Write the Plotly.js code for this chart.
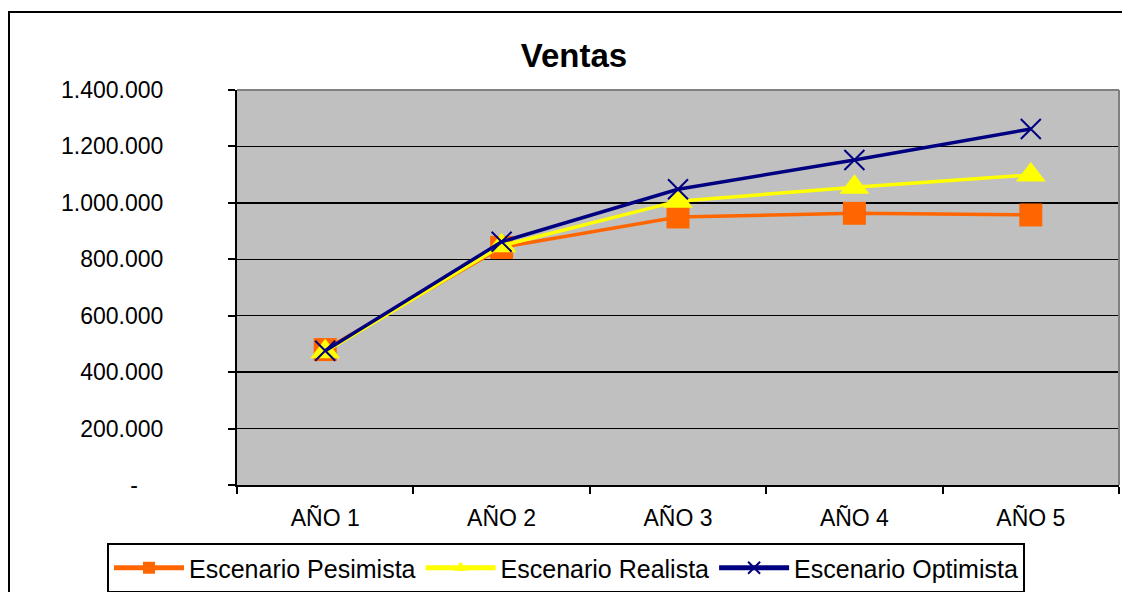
<!DOCTYPE html>
<html>
<head>
<meta charset="utf-8">
<script src="https://cdn.plot.ly/plotly-3.0.1.min.js"></script>
<style>
  html, body { margin: 0; padding: 0; background: #ffffff; }
  #chart { width: 1122px; height: 592px; }
</style>
</head>
<body>
<div id="chart"></div>
<script>
// Yearly sales under three scenarios
const years = ['AÑO 1', 'AÑO 2', 'AÑO 3', 'AÑO 4', 'AÑO 5'];
const pesimista = [480000, 842000, 950000, 963000, 957000];
const realista  = [472000, 848000, 1006000, 1055000, 1099000];
const optimista = [476000, 862000, 1048000, 1152000, 1262000];

const yTickValues = [0, 200000, 400000, 600000, 800000, 1000000, 1200000, 1400000];
const yTickLabels = ['-', '200.000', '400.000', '600.000', '800.000', '1.000.000', '1.200.000', '1.400.000'];

// accounting-style dash for zero sits left of the right-aligned numbers
const NBSP = '\u00a0';
const yTickText = yTickLabels.map(t => t === '-' ? '-' + NBSP.repeat(4) : t);

const FONT = '"Liberation Sans", Arial, sans-serif';

// plot area in pixels, used to place frame and legend in paper units
const W = 1122, H = 592;
const L = 237, R = 1119, T = 90, B = 485;
const pw = R - L, ph = B - T;
const px = x => (x - L) / pw;
const py = y => (B - y) / ph;

const traces = [
  {
    name: 'Escenario Pesimista', x: years, y: pesimista,
    type: 'scatter', mode: 'lines+markers',
    line: { color: '#FF6600', width: 3.5 },
    marker: { symbol: 'square', size: 23, color: '#FF6600' }
  },
  {
    name: 'Escenario Realista', x: years, y: realista,
    type: 'scatter', mode: 'lines+markers',
    line: { color: '#FFFF00', width: 3.5 },
    marker: { symbol: 'triangle-up', size: 26, color: '#FFFF00' }
  },
  {
    name: 'Escenario Optimista', x: years, y: optimista,
    type: 'scatter', mode: 'lines+markers',
    line: { color: '#000080', width: 3.5 },
    marker: { symbol: 'x-thin', size: 20, color: '#000080',
              line: { color: '#000080', width: 2 } }
  }
];

const layout = {
  width: W, height: H,
  margin: { l: L, r: W - R, t: T, b: H - B, pad: 0, autoexpand: false },
  paper_bgcolor: '#ffffff',
  plot_bgcolor: '#C0C0C0',
  font: { family: FONT, color: '#000000', size: 23 },
  title: {
    text: '<b>Ventas</b>',
    font: { family: FONT, size: 33, color: '#000000' },
    xref: 'container', yref: 'container',
    x: 574 / W, xanchor: 'center',
    y: 1 - 55 / H, yanchor: 'middle'
  },
  xaxis: {
    type: 'category',
    range: [-0.5, years.length - 0.5],
    showgrid: false, zeroline: false,
    showline: true, linecolor: '#000000', linewidth: 2,
    ticks: 'outside', tickson: 'boundaries', ticklen: 7, tickwidth: 2, tickcolor: '#000000',
    ticklabelstandoff: 11,
    tickfont: { family: FONT, size: 23, color: '#000000' },
    fixedrange: true
  },
  yaxis: {
    range: [0, 1400000],
    tickmode: 'array', tickvals: yTickValues, ticktext: yTickText,
    showgrid: true, gridcolor: '#000000', gridwidth: 1.5,
    zeroline: false,
    showline: true, linecolor: '#000000', linewidth: 2,
    ticks: 'outside', ticklen: 7, tickwidth: 2, tickcolor: '#000000',
    ticklabelstandoff: 60,
    tickfont: { family: FONT, size: 23, color: '#000000' },
    fixedrange: true
  },
  showlegend: true,
  legend: {
    orientation: 'h',
    x: px(107), xanchor: 'left',
    y: py(543), yanchor: 'top',
    bgcolor: '#ffffff', bordercolor: '#000000', borderwidth: 2,
    font: { family: FONT, size: 25, color: '#000000' },
    itemwidth: 70, itemsizing: 'constant',
    traceorder: 'normal'
  },
  shapes: [
    // outer chart frame
    { type: 'rect', xref: 'paper', yref: 'paper', layer: 'above',
      x0: px(9), x1: px(W + 20), y0: py(H + 20), y1: py(12),
      line: { color: '#000000', width: 2 } },
    // grey plot-area border on top and right
    { type: 'line', xref: 'paper', yref: 'paper', layer: 'above',
      x0: 0, x1: 1, y0: 1, y1: 1, line: { color: '#808080', width: 2 } },
    { type: 'line', xref: 'paper', yref: 'paper', layer: 'above',
      x0: 1, x1: 1, y0: 0, y1: 1, line: { color: '#808080', width: 2 } }
  ],
  hovermode: false
};

Plotly.newPlot('chart', traces, layout, { staticPlot: true, displayModeBar: false });
</script>
</body>
</html>
